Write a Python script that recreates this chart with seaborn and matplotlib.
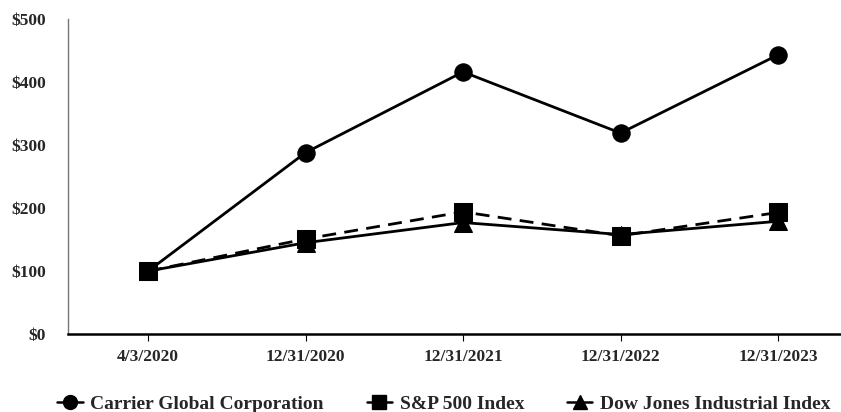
import numpy as np
import pandas as pd
import seaborn as sns
from matplotlib import pyplot as plt
from matplotlib.lines import Line2D

dates = ['4/3/2020', '12/31/2020', '12/31/2021', '12/31/2022', '12/31/2023']
carrier = [100, 288, 416, 319, 443]
sp500 = [100, 151, 194, 156, 193]
dow = [100, 145, 177, 158, 179]
names = ['Carrier Global Corporation', 'S&P 500 Index', 'Dow Jones Industrial Index']
yticks = [0, 100, 200, 300, 400, 500]

sns.set_style('white')
plt.rcParams['font.family'] = ['Liberation Serif', 'DejaVu Serif']
plt.rcParams['font.weight'] = 'bold'

df = pd.DataFrame({'Date': dates * 3,
                   'Value': carrier + sp500 + dow,
                   'Series': [n for n in names for _ in dates]})
df['x'] = list(range(len(dates))) * 3

fig = plt.figure(figsize=(8.41, 4.12), dpi=100)
ax = fig.add_axes([0.081, 0.189, 0.919, 0.765])

sns.lineplot(data=df, x='x', y='Value', hue='Series', style='Series',
             markers={names[0]: 'o', names[1]: 's', names[2]: '^'},
             dashes={names[0]: '', names[1]: (5, 3), names[2]: ''},
             palette=['black'] * 3, markersize=12.5, linewidth=2.0,
             markeredgecolor='black', ax=ax, legend=False)

ax.set_xlim(-0.508, 4.4)
ax.set_ylim(0, 500)
ax.set_xticks(range(len(dates)))
ax.set_xticklabels(dates, fontsize=12.5, fontweight='bold')
ax.set_yticks(yticks)
ax.set_yticklabels(['$' + str(v) for v in yticks], fontsize=12.5, fontweight='bold')
ax.tick_params(axis='x', length=5, width=0.8, color='black', pad=6, bottom=True)
ax.tick_params(axis='y', length=0, pad=16)
for s in ['top', 'right']:
    ax.spines[s].set_visible(False)
ax.spines['left'].set_color('#777777')
ax.spines['left'].set_linewidth(1.0)
ax.spines['bottom'].set_color('black')
ax.spines['bottom'].set_linewidth(1.8)
ax.set_xlabel('')
ax.set_ylabel('')

handles = [Line2D([], [], color='black', marker=m, markersize=10, linewidth=1.8)
           for m in ['o', 's', '^']]
fig.legend(handles, names, loc='center', bbox_to_anchor=(0.528, 0.02), ncol=3,
           frameon=False, handlelength=1.3, handletextpad=0.4, columnspacing=2.2,
           prop={'size': 14, 'weight': 'bold'})

fig.savefig('out.png', dpi=100)
